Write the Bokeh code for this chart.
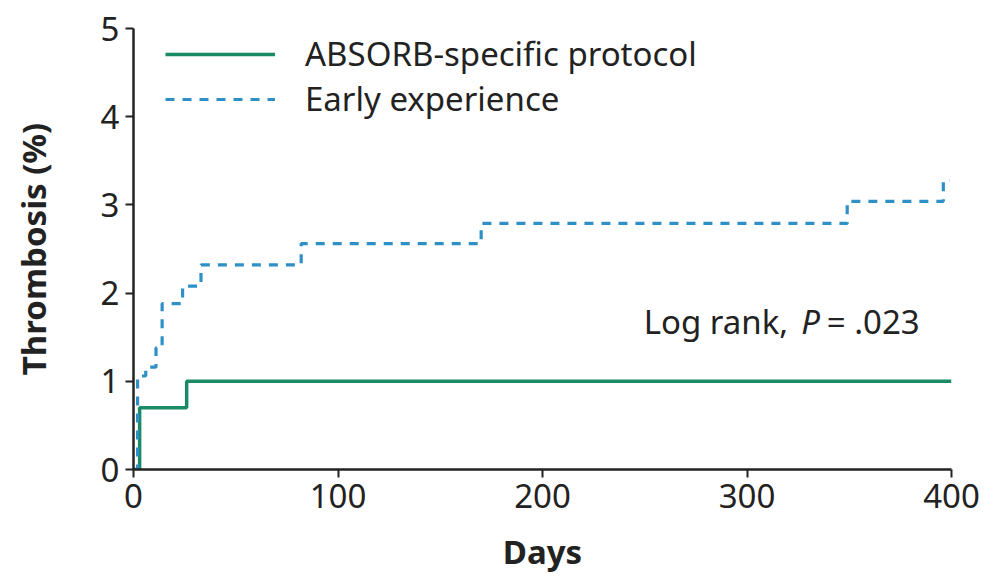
from bokeh.plotting import figure
from bokeh.models import Range1d, Legend, LegendItem, Label, FixedTicker
from bokeh.embed import file_html
from bokeh.resources import INLINE

# Data
absorb_days = [0, 3, 26, 400]
absorb_pct = [0.0, 0.70, 1.00, 1.00]

early_days = [0, 2, 6, 11, 14, 24, 33, 82, 170, 349, 396, 399]
early_pct = [0.0, 1.06, 1.16, 1.38, 1.88, 2.08, 2.32, 2.56, 2.79, 3.04, 3.28, 3.28]

x_ticks = [0, 100, 200, 300, 400]
y_ticks = [0, 1, 2, 3, 4, 5]

GREEN = "#1b8a67"
BLUE = "#2e90c6"
FONT = "Noto Sans"
TXT = "#222222"

p = figure(width=994, height=581, output_backend="svg", toolbar_location=None,
           x_range=Range1d(0, 400), y_range=Range1d(0, 5),
           min_border_left=133, min_border_right=43, min_border_top=28,
           min_border_bottom=112)
p.outline_line_color = None
p.xgrid.visible = False
p.ygrid.visible = False
p.background_fill_color = "white"
p.border_fill_color = "white"

r1 = p.step(absorb_days, absorb_pct, mode="after", line_color=GREEN, line_width=3.5)
r2 = p.step(early_days, early_pct, mode="after", line_color=BLUE, line_width=3.2,
            line_dash="9 8")

for ax in (p.xaxis[0], p.yaxis[0]):
    ax.axis_line_color = TXT
    ax.axis_line_width = 2.5
    ax.major_tick_line_color = TXT
    ax.major_tick_line_width = 2
    ax.major_tick_out = 8
    ax.major_tick_in = 0
    ax.minor_tick_line_color = None
    ax.major_label_text_font = FONT
    ax.major_label_text_font_size = "33px"
    ax.major_label_text_color = TXT
    ax.axis_label_text_font = FONT
    ax.axis_label_text_font_style = "bold"
    ax.axis_label_text_font_size = "33px"
    ax.axis_label_text_color = TXT

p.xaxis.ticker = FixedTicker(ticks=x_ticks)
p.yaxis.ticker = FixedTicker(ticks=y_ticks)
p.xaxis.axis_label = "Days"
p.yaxis.axis_label = "Thrombosis (%)"
p.xaxis.major_label_standoff = 6
p.yaxis.major_label_standoff = 6
p.xaxis.axis_label_standoff = 18
p.yaxis.axis_label_standoff = 42

legend = Legend(items=[LegendItem(label="ABSORB-specific protocol", renderers=[r1]),
                       LegendItem(label="Early experience", renderers=[r2])],
                location=(32, 348), margin=0, padding=0, spacing=0,
                glyph_width=110, glyph_height=30, label_height=30,
                label_standoff=30, border_line_color=None,
                background_fill_alpha=0,
                label_text_font=FONT, label_text_font_size="33px",
                label_text_color=TXT)
p.add_layout(legend)

for txt, xpos, style in [("Log rank,", 249.5, "normal"), ("P", 326.5, "italic"),
                         ("= .023", 339, "normal")]:
    p.add_layout(Label(x=xpos, y=1.68, text=txt, text_font=FONT,
                       text_font_size="33px", text_font_style=style,
                       text_color=TXT, text_baseline="middle"))

open("out.html", "w").write(file_html(p, INLINE))
